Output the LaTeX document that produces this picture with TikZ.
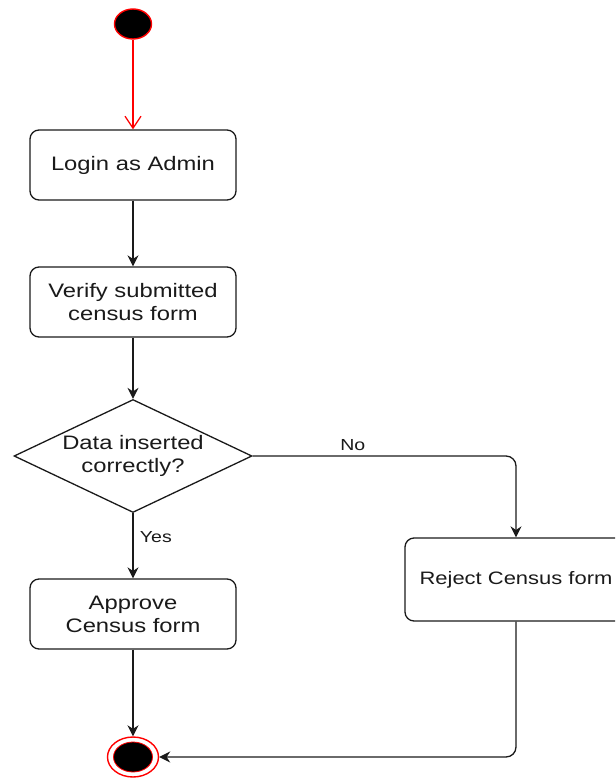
\documentclass[tikz,border=0pt]{standalone}
\usepackage{fontspec}
\setmainfont[FakeStretch=1.22]{Liberation Sans}
\usetikzlibrary{shapes.geometric,arrows.meta}
\definecolor{ink}{HTML}{1A1A1A}
\begin{document}
\begin{tikzpicture}[x=1pt,y=-1pt,
  every node/.style={font=\fontsize{19.5}{23}\selectfont, text=ink},
  actbox/.style={draw=ink, line width=1.3pt, rounded corners=9pt, align=center, inner sep=0pt},
  flow/.style={draw=ink, line width=1.3pt, -{Stealth[length=11pt,width=11pt]}, rounded corners=10pt},
  startdot/.style={ellipse, fill=black, draw=red, line width=1.4pt, minimum width=37pt, minimum height=30pt, inner sep=0pt},
  edgelabel/.style={font=\fontsize{16}{18}\selectfont},
]
\clip (0,0) rectangle (615,778);
\node[startdot] (start) at (133,24) {};
\node[actbox, minimum width=206pt, minimum height=70pt] (login) at (133,165) {Login as Admin};
\node[actbox, minimum width=206pt, minimum height=70pt] (verify) at (133,302) {Verify submitted\\census form};
\node[diamond, draw=ink, line width=1.3pt, minimum width=238pt, minimum height=113pt, inner sep=0pt, align=center] (dec) at (133,456) {\makebox[0pt]{Data inserted}\\\makebox[0pt]{correctly?}};
\node[actbox, minimum width=206pt, minimum height=70pt] (approve) at (133,614) {Approve\\Census form};
\node[actbox, minimum width=222pt, minimum height=83pt, font=\fontsize{18}{22}\selectfont] (reject) at (516,579.5) {Reject Census form};
\node[ellipse, draw=red, fill=white, line width=1.4pt, minimum width=51pt, minimum height=40pt, inner sep=0pt] (end) at (133,757) {};
\node[ellipse, fill=black, draw=red, line width=0.8pt, minimum width=39pt, minimum height=30pt, inner sep=0pt] (enddot) at (end) {};

\draw[red, line width=1.3pt, -{Straight Barb[length=12pt,width=16pt]}] (start) -- (login);
\draw[flow] (login) -- (verify);
\draw[flow] (verify) -- (dec);
\draw[flow] (dec) -- node[right, xshift=3pt, yshift=9pt, edgelabel] {Yes} (approve);
\draw[flow] (approve) -- (end);
\draw[flow] (dec.east) -- node[above, pos=0.38, yshift=1pt, edgelabel] {No} (reject.north |- dec.east) -- (reject.north);
\draw[flow] (reject.south) -- (reject.south |- end.east) -- (end.east);
\end{tikzpicture}
\end{document}
